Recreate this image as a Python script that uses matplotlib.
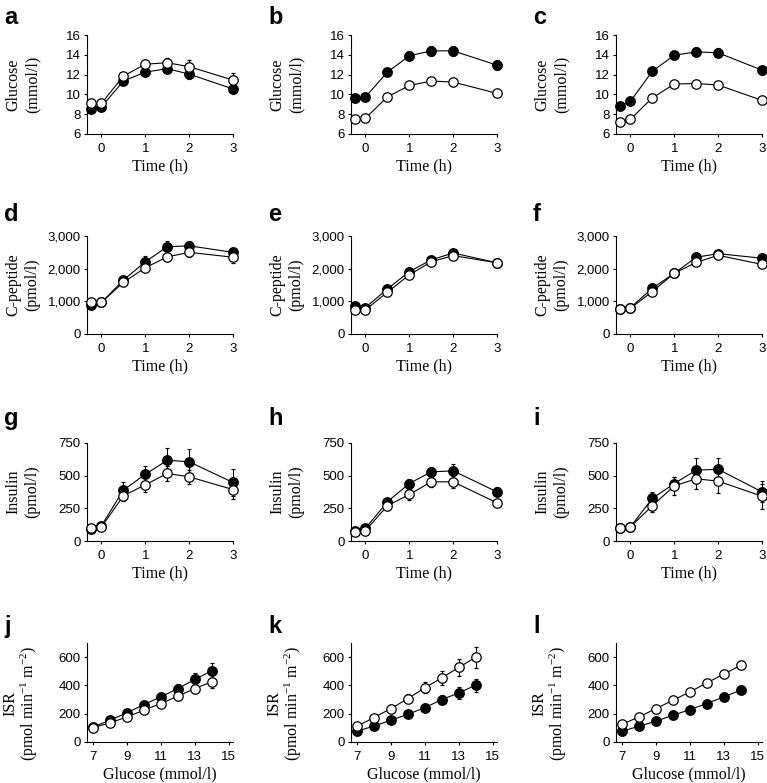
import numpy as np
import matplotlib
matplotlib.use('Agg')
import matplotlib.pyplot as plt
from matplotlib.ticker import FuncFormatter

plt.rcParams['font.family'] = ['Liberation Sans', 'DejaVu Sans']
plt.rcParams['mathtext.fontset'] = 'custom'
plt.rcParams['mathtext.rm'] = 'Liberation Serif'
plt.rcParams['mathtext.it'] = 'Liberation Serif:italic'

# time points (h) and glucose levels (mmol/l)
t = [-0.25, 0, 0.5, 1, 1.5, 2, 3]
glc = [7, 8, 9, 10, 11, 12, 13, 14]

# glucose (mmol/l)
a_fill = [8.5, 8.75, 11.35, 12.25, 12.6, 12.05, 10.55]
a_fill_err = [0.3, 0.3, 0.35, 0.4, 0.45, 0.45, 0.45]
a_open = [9.1, 9.1, 11.85, 13.05, 13.2, 12.8, 11.45]
a_open_err = [0.3, 0.3, 0.35, 0.4, 0.5, 0.7, 0.75]
b_fill = [9.6, 9.75, 12.25, 13.9, 14.4, 14.4, 12.95]
b_fill_err = [0.3, 0.3, 0.35, 0.45, 0.5, 0.5, 0.5]
b_open = [7.5, 7.6, 9.75, 10.9, 11.35, 11.25, 10.1]
b_open_err = [0.2, 0.2, 0.2, 0.25, 0.25, 0.25, 0.25]
c_fill = [8.85, 9.3, 12.35, 13.95, 14.3, 14.2, 12.45]
c_fill_err = [0.3, 0.3, 0.35, 0.4, 0.45, 0.45, 0.45]
c_open = [7.25, 7.5, 9.65, 11.05, 11.1, 10.95, 9.4]
c_open_err = [0.2, 0.2, 0.2, 0.25, 0.25, 0.25, 0.25]

# C-peptide (pmol/l)
d_fill = [890, 970, 1650, 2210, 2670, 2700, 2500]
d_fill_err = [60, 60, 90, 170, 180, 150, 130]
d_open = [970, 970, 1580, 2030, 2360, 2500, 2350]
d_open_err = [60, 60, 80, 100, 120, 140, 170]
e_fill = [860, 810, 1380, 1910, 2270, 2480, 2180]
e_fill_err = [50, 50, 60, 70, 70, 70, 70]
e_open = [740, 740, 1280, 1810, 2210, 2400, 2180]
e_open_err = [50, 50, 60, 70, 70, 70, 70]
f_fill = [780, 810, 1400, 1860, 2350, 2460, 2320]
f_fill_err = [50, 50, 70, 70, 80, 80, 80]
f_open = [770, 790, 1300, 1860, 2190, 2410, 2130]
f_open_err = [50, 50, 70, 70, 80, 80, 80]

# insulin (pmol/l)
g_fill = [90, 117, 390, 510, 618, 606, 448]
g_fill_err = [20, 25, 65, 65, 95, 95, 100]
g_open = [97, 107, 346, 430, 517, 491, 394]
g_open_err = [20, 20, 40, 55, 55, 55, 70]
h_fill = [79, 97, 300, 440, 529, 537, 376]
h_fill_err = [15, 15, 25, 35, 40, 55, 35]
h_open = [66, 79, 270, 356, 453, 453, 292]
h_open_err = [15, 15, 25, 40, 40, 45, 25]
i_fill = [102, 109, 326, 440, 542, 549, 376]
i_fill_err = [15, 15, 50, 50, 90, 90, 80]
i_open = [97, 109, 270, 422, 476, 458, 343]
i_open_err = [15, 15, 45, 70, 80, 90, 95]

# insulin secretion rate (pmol min-1 m-2)
j_fill = [106, 154, 206, 265, 319, 378, 442, 504]
j_fill_err = [10, 12, 15, 20, 25, 35, 45, 55]
j_open = [102, 135, 177, 225, 272, 324, 378, 426]
j_open_err = [10, 12, 15, 18, 22, 28, 35, 45]
k_fill = [76, 113, 154, 196, 243, 300, 347, 402]
k_fill_err = [8, 10, 14, 20, 25, 30, 40, 45]
k_open = [111, 173, 236, 307, 383, 454, 527, 600]
k_open_err = [15, 20, 25, 30, 40, 50, 60, 75]
l_fill = [76, 111, 147, 189, 229, 272, 319, 366]
l_fill_err = [6, 8, 10, 10, 12, 14, 15, 18]
l_open = [125, 177, 236, 295, 354, 418, 480, 543]
l_open_err = [8, 10, 12, 14, 16, 18, 22, 30]

W, H = 767, 783
fig = plt.figure(figsize=(W / 100, H / 100), dpi=100)

lefts = [87, 351, 616]
tops = [35, 236, 443, 643]
bottoms = [134, 334, 541, 742]
aw = 146
letter_dy = [11, 15, 18, 10]
ylab_y = [0.5, 0.5, 0.5, 0.39]
ylab_sp = [1.25, 1.25, 1.25, 1.05]

rows = [
    ('Glucose\n(mmol/l)', 'Time (h)', t, (6, 16), [6, 8, 10, 12, 14, 16],
     [(a_fill, a_fill_err, a_open, a_open_err), (b_fill, b_fill_err, b_open, b_open_err),
      (c_fill, c_fill_err, c_open, c_open_err)]),
    ('C-peptide\n(pmol/l)', 'Time (h)', t, (0, 3000), [0, 1000, 2000, 3000],
     [(d_fill, d_fill_err, d_open, d_open_err), (e_fill, e_fill_err, e_open, e_open_err),
      (f_fill, f_fill_err, f_open, f_open_err)]),
    ('Insulin\n(pmol/l)', 'Time (h)', t, (0, 750), [0, 250, 500, 750],
     [(g_fill, g_fill_err, g_open, g_open_err), (h_fill, h_fill_err, h_open, h_open_err),
      (i_fill, i_fill_err, i_open, i_open_err)]),
    ('ISR\n(pmol min$^{-1}$ m$^{-2}$)', 'Glucose (mmol/l)', glc, (0, 700), [0, 200, 400, 600],
     [(j_fill, j_fill_err, j_open, j_open_err), (k_fill, k_fill_err, k_open, k_open_err),
      (l_fill, l_fill_err, l_open, l_open_err)]),
]
letters = 'abcdefghijkl'

serif = {'family': 'Liberation Serif', 'size': 11.5}

for r, (ylab, xlab, xs, ylim, yticks, series) in enumerate(rows):
    for c, (yf, ef, yo, eo) in enumerate(series):
        x0 = lefts[c] / W
        y0 = 1 - bottoms[r] / H
        h = (bottoms[r] - tops[r]) / H
        ax = fig.add_axes([x0, y0, aw / W, h])

        ax.errorbar(xs, yf, yerr=ef, fmt='-o', color='black', mfc='black', mec='black',
                    ms=6.8, lw=0.8, elinewidth=0.8, capsize=1.5, capthick=0.8, clip_on=False, zorder=3)
        ax.errorbar(xs, yo, yerr=eo, fmt='-o', color='black', mfc='white', mec='black',
                    ms=6.8, mew=0.9, lw=0.8, elinewidth=0.8, capsize=1.5, capthick=0.8, clip_on=False, zorder=4)

        ax.set_ylim(*ylim)
        ax.set_yticks(yticks)
        if r < 3:
            ax.set_xlim(-0.33, 3.0)
            ax.set_xticks([0, 1, 2, 3])
        else:
            ax.set_xlim(6.65, 15.25)
            ax.set_xticks([7, 9, 11, 13, 15])
        if r == 1:
            ax.yaxis.set_major_formatter(FuncFormatter(lambda v, p: f'{int(v):,}'))

        for s in ['top', 'right']:
            ax.spines[s].set_visible(False)
        for s in ['left', 'bottom']:
            ax.spines[s].set_linewidth(0.8)
        ax.tick_params(direction='out', length=2.5, width=0.8, labelsize=9.5)
        ax.tick_params(axis='x', pad=4)
        ax.tick_params(axis='y', pad=2)

        ax.set_ylabel(ylab, fontdict=serif, linespacing=ylab_sp[r])
        ax.yaxis.set_label_coords(-0.32, ylab_y[r])
        ax.set_xlabel(xlab, fontdict=serif)
        ax.xaxis.set_label_coords(0.5, -0.25)

        fig.text((lefts[c] - 83) / W, 1 - (tops[r] - letter_dy[r]) / H, letters[r * 3 + c],
                 fontsize=17, fontweight='bold', va='baseline', ha='left')

fig.savefig('out.png', dpi=100)
